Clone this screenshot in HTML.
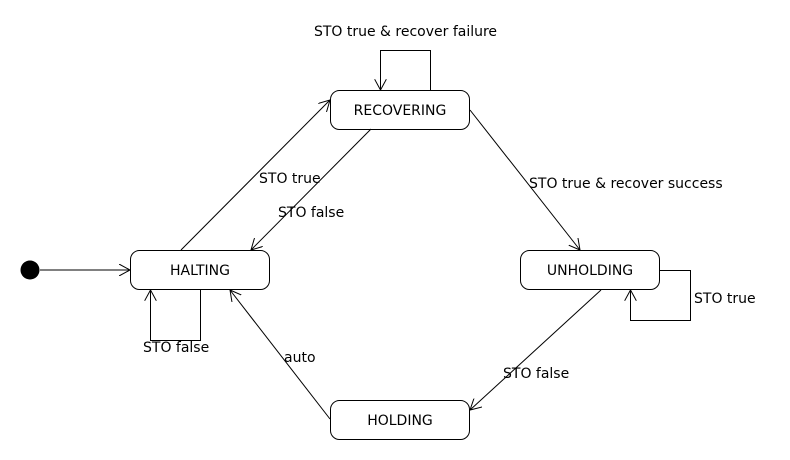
<!DOCTYPE html>
<html><head><meta charset="utf-8"><style>
html,body{margin:0;padding:0;background:#fff;}
svg{display:block;}
text{font-family:"DejaVu Sans","Liberation Sans",sans-serif;font-size:14px;fill:#000;}
</style></head><body>
<svg width="790" height="460" viewBox="0 0 790 460" xmlns="http://www.w3.org/2000/svg">
<defs>
<marker id="a" markerWidth="12" markerHeight="12" refX="11" refY="6" orient="auto" markerUnits="userSpaceOnUse">
<path d="M0,0 L11,6 L0,12" fill="none" stroke="#000" stroke-width="1"/>
</marker>
</defs>
<g fill="none" stroke="#000" stroke-width="1">
<rect x="330.5" y="90.5" width="139" height="39" rx="9"/>
<rect x="130.5" y="250.5" width="139" height="39" rx="9"/>
<rect x="520.5" y="250.5" width="139" height="39" rx="9"/>
<rect x="330.5" y="400.5" width="139" height="39" rx="9"/>
<line x1="40" y1="270" x2="130" y2="270" marker-end="url(#a)"/>
<line x1="181" y1="250" x2="330" y2="100" marker-end="url(#a)"/>
<line x1="371" y1="129" x2="251" y2="250" marker-end="url(#a)"/>
<line x1="470" y1="110" x2="580" y2="250" marker-end="url(#a)"/>
<line x1="601" y1="290" x2="470" y2="410" marker-end="url(#a)"/>
<line x1="330" y1="419" x2="230" y2="290" marker-end="url(#a)"/>
<polyline points="430.5,90 430.5,50.5 380.5,50.5 380.5,90" marker-end="url(#a)"/>
<polyline points="200.5,290 200.5,340.5 150.5,340.5 150.5,290" marker-end="url(#a)"/>
<polyline points="660,270.5 690.5,270.5 690.5,320.5 630.5,320.5 630.5,290" marker-end="url(#a)"/>
</g>
<circle cx="30" cy="270" r="9.5" fill="#000"/>
<text x="400" y="115" text-anchor="middle">RECOVERING</text>
<text x="200" y="275" text-anchor="middle">HALTING</text>
<text x="590" y="275" text-anchor="middle">UNHOLDING</text>
<text x="400" y="425" text-anchor="middle">HOLDING</text>
<text x="405.5" y="36" text-anchor="middle">STO true &amp; recover failure</text>
<text x="259" y="183">STO true</text>
<text x="278" y="217">STO false</text>
<text x="529" y="188">STO true &amp; recover success</text>
<text x="694" y="303">STO true</text>
<text x="143" y="352">STO false</text>
<text x="284" y="362">auto</text>
<text x="503" y="378">STO false</text>
</svg>
</body></html>
